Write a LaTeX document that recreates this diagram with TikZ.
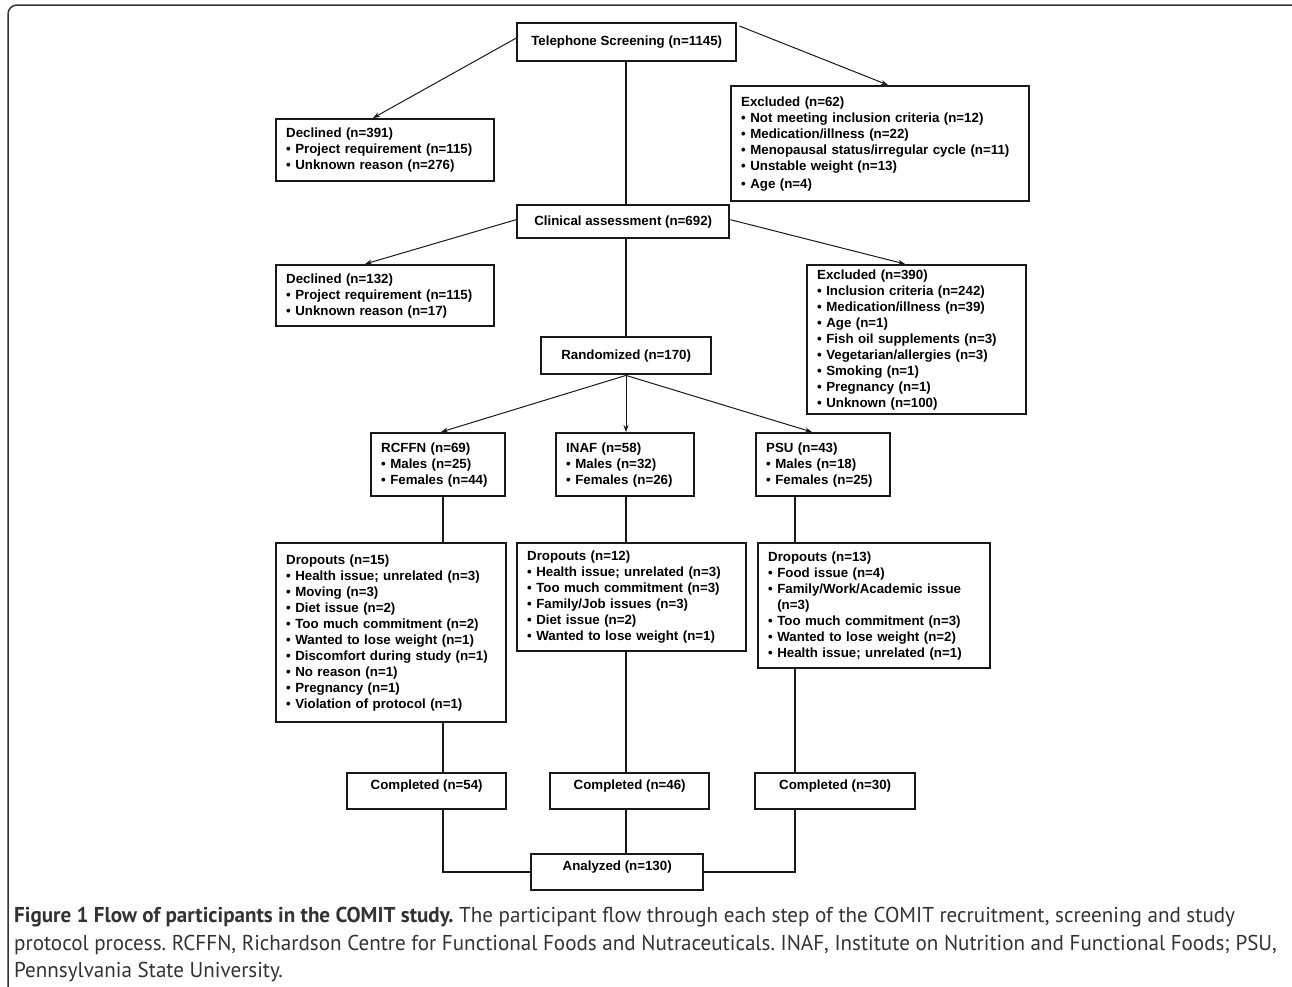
\documentclass[tikz,border=0pt]{standalone}
\usepackage{fontspec}
\setmainfont{Liberation Sans}
\newfontfamily\capfont[FakeStretch=0.98]{PT Sans}
\usetikzlibrary{arrows.meta,calc}
\begin{document}
\frenchspacing
\begin{tikzpicture}[x=1pt,y=-1pt,
  box/.style={draw=black!90, line width=2.4pt, inner xsep=10pt, inner ysep=2pt,
    font=\bfseries\fontsize{13.3}{16}\selectfont, anchor=north west, align=left},
  cbox/.style={box, align=center, inner xsep=2pt},
  link/.style={draw=black!90, line width=1.6pt},
  arr/.style={draw=black!90, line width=1pt, -{Stealth[length=7pt,width=5pt]}},
  capline/.style={anchor=base west, inner sep=0pt, text=black!80,
    font=\capfont\fontsize{21.5}{27}\selectfont}]
\useasboundingbox (0,0) rectangle (1292,986);
\clip (0,0) rectangle (1292,986);
\draw[draw=black!80, line width=1.5pt, rounded corners=9pt] (8,1010) -- (8,5) -- (1310,5);

% columns
\coordinate (cL) at (443,0);
\coordinate (cM) at (626,0);
\coordinate (cR) at (795,0);

% boxes
\node[cbox, minimum width=219, minimum height=38] (tel) at (516,22) {Telephone Screening (n=1145)};
\node[box, text width=198, minimum height=62] (dec1) at (275,118)
  {Declined (n=391)\\ \textbullet\ Project requirement (n=115)\\ \textbullet\ Unknown reason (n=276)};
\node[box, text width=278, minimum height=115] (exc1) at (730,85)
  {Excluded (n=62)\\ \textbullet\ Not meeting inclusion criteria (n=12)\\ \textbullet\ Medication/illness (n=22)\\
   \textbullet\ Menopausal status/irregular cycle (n=11)\\ \textbullet\ Unstable weight (n=13)\\[2pt] \textbullet\ Age (n=4)};
\node[cbox, minimum width=212, minimum height=33] (clin) at (516,204) {Clinical assessment (n=692)};
\node[box, text width=198, minimum height=61] (dec2) at (275,264)
  {Declined (n=132)\\ \textbullet\ Project requirement (n=115)\\ \textbullet\ Unknown reason (n=17)};
\node[box, text width=199, minimum height=149] (exc2) at (806,264)
  {Excluded (n=390)\\ \textbullet\ Inclusion criteria (n=242)\\ \textbullet\ Medication/illness (n=39)\\
   \textbullet\ Age (n=1)\\ \textbullet\ Fish oil supplements (n=3)\\ \textbullet\ Vegetarian/allergies (n=3)\\
   \textbullet\ Smoking (n=1)\\ \textbullet\ Pregnancy (n=1)\\ \textbullet\ Unknown (n=100)};
\node[cbox, minimum width=170, minimum height=37] (rand) at (540,336) {Randomized (n=170)};
\node[box, text width=114, minimum height=63] (rc) at (370,432)
  {RCFFN (n=69)\\ \textbullet\ Males (n=25)\\ \textbullet\ Females (n=44)};
\node[box, text width=118, minimum height=63] (inaf) at (555,432)
  {INAF (n=58)\\ \textbullet\ Males (n=32)\\ \textbullet\ Females (n=26)};
\node[box, text width=114, minimum height=63] (psu) at (755,432)
  {PSU (n=43)\\ \textbullet\ Males (n=18)\\ \textbullet\ Females (n=25)};
\node[box, text width=210, minimum height=179] (d1) at (275,542)
  {Dropouts (n=15)\\ \textbullet\ Health issue; unrelated (n=3)\\ \textbullet\ Moving (n=3)\\ \textbullet\ Diet issue (n=2)\\
   \textbullet\ Too much commitment (n=2)\\ \textbullet\ Wanted to lose weight (n=1)\\ \textbullet\ Discomfort during study (n=1)\\
   \textbullet\ No reason (n=1)\\ \textbullet\ Pregnancy (n=1)\\ \textbullet\ Violation of protocol (n=1)\\[4pt]};
\node[box, text width=209, minimum height=108] (d2) at (516,542)
  {Dropouts (n=12)\\ \textbullet\ Health issue; unrelated (n=3)\\ \textbullet\ Too much commitment (n=3)\\
   \textbullet\ Family/Job issues (n=3)\\ \textbullet\ Diet issue (n=2)\\ \textbullet\ Wanted to lose weight (n=1)};
\node[box, text width=212, minimum height=125] (d3) at (757,542)
  {Dropouts (n=13)\\ \textbullet\ Food issue (n=4)\\ \textbullet\ Family/Work/Academic issue\\ \phantom{\textbullet\ }(n=3)\\
   \textbullet\ Too much commitment (n=3)\\ \textbullet\ Wanted to lose weight (n=2)\\ \textbullet\ Health issue; unrelated (n=1)};
\node[cbox, minimum width=159, minimum height=36] (co1) at (346,772) {Completed (n=54)\\[-2pt]};
\node[cbox, minimum width=159, minimum height=36] (co2) at (549,772) {Completed (n=46)\\[-2pt]};
\node[cbox, minimum width=160, minimum height=36] (co3) at (754,772) {Completed (n=30)\\[-2pt]};
\node[cbox, minimum width=172, minimum height=36] (ana) at (530,853) {Analyzed (n=130)\\[-2pt]};

% connectors
\draw[arr] ($(tel.west)+(0,-4)$) -- ($(dec1.north west)+(98,0)$);
\draw[arr] ($(tel.north east)+(2,4)$) -- ($(exc1.north west)+(158,0)$);
\draw[link] (tel.south -| cM) -- (clin.north -| cM);
\draw[arr] ($(clin.west)+(0,-2)$) -- ($(dec2.north west)+(90,0)$);
\draw[arr] ($(clin.east)+(0,-2)$) -- ($(exc2.north west)+(99,0)$);
\draw[link] (clin.south -| cM) -- (rand.north -| cM);
\draw[arr] (rand.south -| cM) -- ($(rc.north west)+(71,0)$);
\draw[arr] (rand.south -| cM) -- (inaf.north -| cM);
\draw[arr] (rand.south -| cM) -- ($(psu.north west)+(57,0)$);
\draw[link] (rc.south -| cL) -- (d1.north -| cL);
\draw[link] (inaf.south -| cM) -- (d2.north -| cM);
\draw[link] (psu.south -| cR) -- (d3.north -| cR);
\draw[link] (d1.south -| cL) -- (co1.north -| cL);
\draw[link] (d2.south -| cM) -- (co2.north -| cM);
\draw[link] (d3.south -| cR) -- (co3.north -| cR);
\draw[link] (co1.south -| cL) |- (ana.west);
\draw[link] (co2.south -| cM) -- (ana.north -| cM);
\draw[link] (co3.south -| cR) |- (ana.east);

% caption
\node[capline] (cap1) at (14,922) {\textbf{Figure 1 Flow of participants in the COMIT study.} The participant flow through each step of the COMIT recruitment, screening and study};
\node[capline] (cap2) at (14,950) {protocol process. RCFFN, Richardson Centre for Functional Foods and Nutraceuticals. INAF, Institute on Nutrition and Functional Foods; PSU,};
\node[capline] (cap3) at (14,977) {Pennsylvania State University.};
\end{tikzpicture}
\end{document}
